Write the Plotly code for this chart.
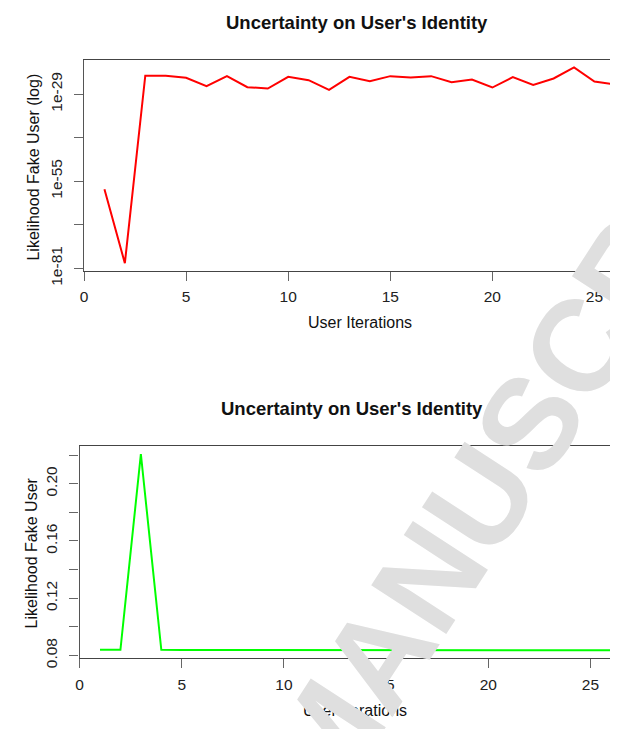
import plotly.graph_objects as go

# ---- data ----
iterations = list(range(1, 27))
likelihood_log = [3.98e-58, 3.16e-80, 3.55e-24, 3.16e-24, 7.94e-25, 2.51e-27, 2.51e-24,
                  1.26e-27, 5.01e-28, 1.58e-24, 1.58e-25, 2.0e-28, 1.58e-24, 7.94e-26,
                  2.51e-24, 1.0e-24, 2.51e-24, 3.98e-26, 2.51e-25, 1.0e-27, 1.26e-24,
                  6.31e-27, 5.01e-25, 1.0e-21, 6.31e-26, 7.94e-27]
likelihood = [0.0839, 0.0839, 0.2208, 0.0839, 0.0838, 0.0838, 0.0837, 0.0837, 0.0837,
              0.0837, 0.0837, 0.0837, 0.0837, 0.0836, 0.0836, 0.0836, 0.0836, 0.0836,
              0.0836, 0.0836, 0.0836, 0.0836, 0.0836, 0.0836, 0.0836, 0.0836]

x_ticks = [0, 5, 10, 15, 20, 25]
top_tickvals = [1e-81, 1e-68, 1e-55, 1e-42, 1e-29]
top_ticktext = ["1e-81", "", "1e-55", "", "1e-29"]
bot_tickvals = [0.08, 0.10, 0.12, 0.14, 0.16, 0.18, 0.20, 0.22]
bot_ticktext = ["0.08", "", "0.12", "", "0.16", "", "0.20", ""]

title_text = "Uncertainty on User's Identity"
xlabel = "User Iterations"
ylabel_top = "Likelihood Fake User (log)"
ylabel_bot = "Likelihood Fake User"
watermark = "ACCEPTED MANUSCRIPT"

W, H = 618, 729
FONT = "Liberation Sans, Arial, Helvetica, sans-serif"

fig = go.Figure()
fig.add_trace(go.Scatter(x=iterations, y=likelihood_log, mode="lines",
                         line=dict(color="#ff0000", width=2), xaxis="x", yaxis="y",
                         showlegend=False))
fig.add_trace(go.Scatter(x=iterations, y=likelihood, mode="lines",
                         line=dict(color="#00ff00", width=2), xaxis="x2", yaxis="y2",
                         showlegend=False))

def px_x(p):
    return p / W

def px_y(p):
    return 1 - p / H

axis_common = dict(showgrid=False, zeroline=False, ticks="outside", ticklen=9,
                   tickwidth=1, tickcolor="#666", showline=True, linewidth=1.2,
                   tickfont=dict(family=FONT, size=15.5, color="#222"))

fig.update_layout(
    width=W, height=H, margin=dict(l=0, r=0, t=0, b=0),
    paper_bgcolor="white", plot_bgcolor="white",
    xaxis=dict(domain=[px_x(72.5), 1], range=[0, (W - 72.5) / 20.55], anchor="y",
               tickvals=x_ticks, mirror=True, linecolor="#444", ticklabelstandoff=3,
               **axis_common),
    yaxis=dict(domain=[px_y(268.3), px_y(53)], type="log", range=[-81.76, -18.75],
               anchor="x", tickvals=top_tickvals, ticktext=top_ticktext, tickangle=-90,
               linecolor="#555", ticklabelstandoff=6, **axis_common),
    xaxis2=dict(domain=[px_x(68), 1], range=[0, (W - 68) / 20.57], anchor="y2",
                tickvals=x_ticks, mirror=True, linecolor="#444", ticklabelstandoff=3,
                **axis_common),
    yaxis2=dict(domain=[px_y(663.5), px_y(447.5)], range=[0.0783, 0.2262], anchor="x2",
                tickvals=bot_tickvals, ticktext=bot_ticktext, tickangle=-90,
                linecolor="#555", ticklabelstandoff=6, **axis_common),
)

ann = []
def text(x, y, s, size, bold=False, angle=0, color="#111"):
    ann.append(dict(x=px_x(x), y=px_y(y), xref="paper", yref="paper", text=s,
                    showarrow=False, xanchor="center", yanchor="middle", textangle=angle,
                    font=dict(family=FONT, size=size, color=color,
                              weight="bold" if bold else "normal")))

text(347, 15, title_text, 18.5, bold=True)
text(350, 321, xlabel, 16)
text(22, 162, ylabel_top, 16, angle=-90)
text(342, 409, title_text, 18.5, bold=True)
text(345, 717, xlabel, 16)
text(20, 556, ylabel_bot, 16, angle=-90)
# watermark
text(315, 745, watermark, 130, bold=True, angle=-57, color="rgb(223,223,223)")
fig.update_layout(annotations=ann)

fig.write_html("out.html")
